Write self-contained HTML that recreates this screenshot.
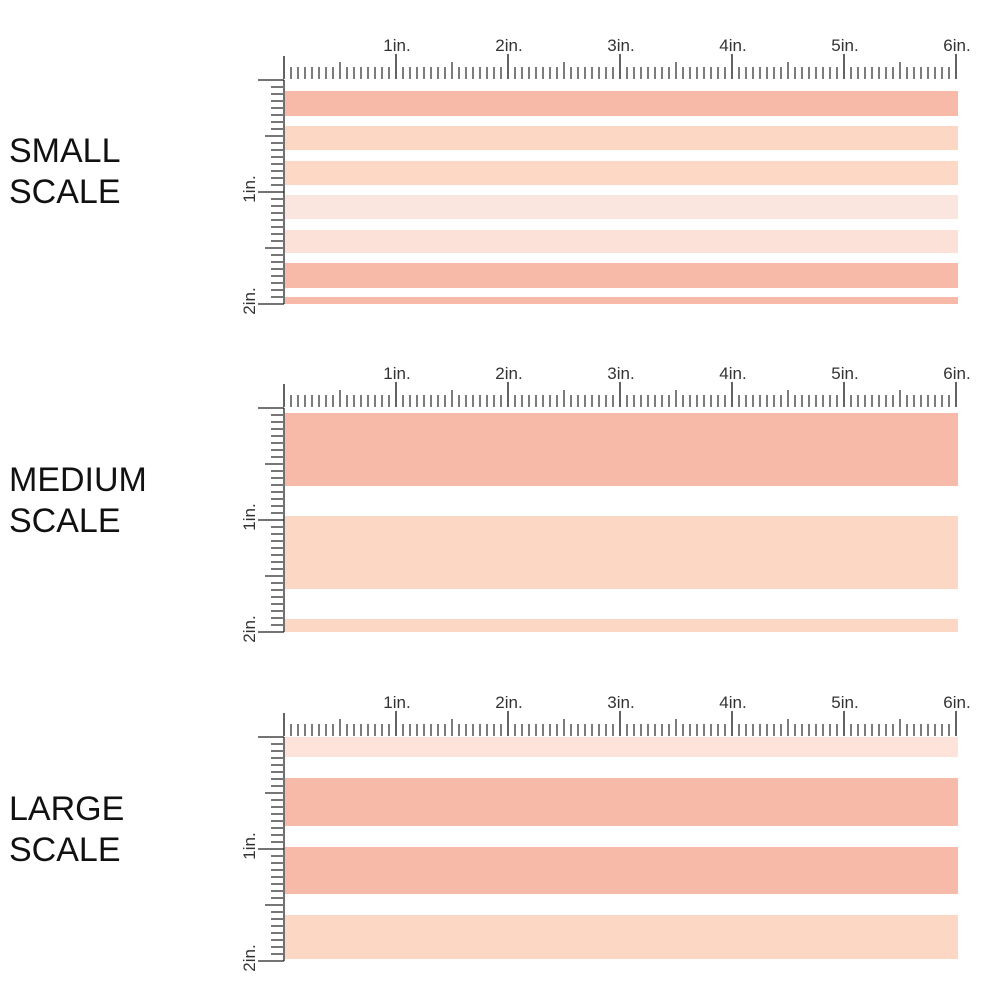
<!DOCTYPE html>
<html><head><meta charset="utf-8"><style>
html,body{margin:0;padding:0;background:#fff;width:1000px;height:1000px;overflow:hidden}
svg{display:block}
</style></head><body>
<svg id="s" width="1000" height="1000" xmlns="http://www.w3.org/2000/svg" font-family="Liberation Sans, sans-serif">
<g font-size="34" fill="#111">
<text x="9" y="162">SMALL</text><text x="9" y="203">SCALE</text>
<text x="9" y="491">MEDIUM</text><text x="9" y="532">SCALE</text>
<text x="9" y="820">LARGE</text><text x="9" y="861">SCALE</text>
</g>
</svg>
<script>
var s=document.getElementById('s'),NS='http://www.w3.org/2000/svg';
function el(t,a,txt){var e=document.createElementNS(NS,t);for(var k in a)e.setAttribute(k,a[k]);if(txt)e.textContent=txt;s.appendChild(e);return e;}
var X0=284,P=112;
var panels=[
 {o:80,st:[[91,116,'#f7b9a8'],[126,150,'#fcd7c4'],[161,185,'#fcd8c5'],[195,219,'#fae6df'],[230,253,'#fce1d8'],[263,288,'#f7b9a8'],[297,304,'#f7b9a8']]},
 {o:408,st:[[413,486,'#f7b9a8'],[516,589,'#fcd7c4'],[619,632,'#fcd7c4']]},
 {o:737,st:[[737,757,'#fde3da'],[778,826,'#f7b9a8'],[847,894,'#f7b9a8'],[915,959,'#fcd7c4']]}
];
panels.forEach(function(p){
 var o=p.o;
 p.st.forEach(function(r){el('rect',{x:285,y:r[0],width:673,height:r[1]-r[0],fill:r[2]});});
 el('line',{x1:258,y1:o,x2:X0,y2:o,stroke:'#222','stroke-width':1.3});
 for(var i=0;i<=96;i++){var x=X0+i*7,h=(i%16==0)?(i==0?23:25):(i%8==0?17:12);
  el('line',{x1:x,y1:o-1,x2:x,y2:o-1-h,stroke:i%16==0?'#222':'#444','stroke-width':1.4});}
 for(var k=1;k<=6;k++)el('text',{x:X0+k*P+1,y:o-29,'font-size':17,fill:'#333','text-anchor':'middle'},k+'in.');
 el('line',{x1:X0,y1:o,x2:X0,y2:o+2*P,stroke:'#222','stroke-width':1.3});
 for(var j=1;j<=32;j++){var y=o+j*7,w=(j%16==0)?26:(j%8==0?19:13);
  el('line',{x1:X0,y1:y,x2:X0-w,y2:y,stroke:j%16==0?'#222':'#777','stroke-width':j%16==0?1.3:2});}
 for(var k=1;k<=2;k++){var ty=o+k*P-3;el('text',{x:0,y:0,'font-size':17,fill:'#333','text-anchor':'middle',transform:'translate(255,'+ty+') rotate(-90)'},k+'in.');}
});
</script>
</body></html>
